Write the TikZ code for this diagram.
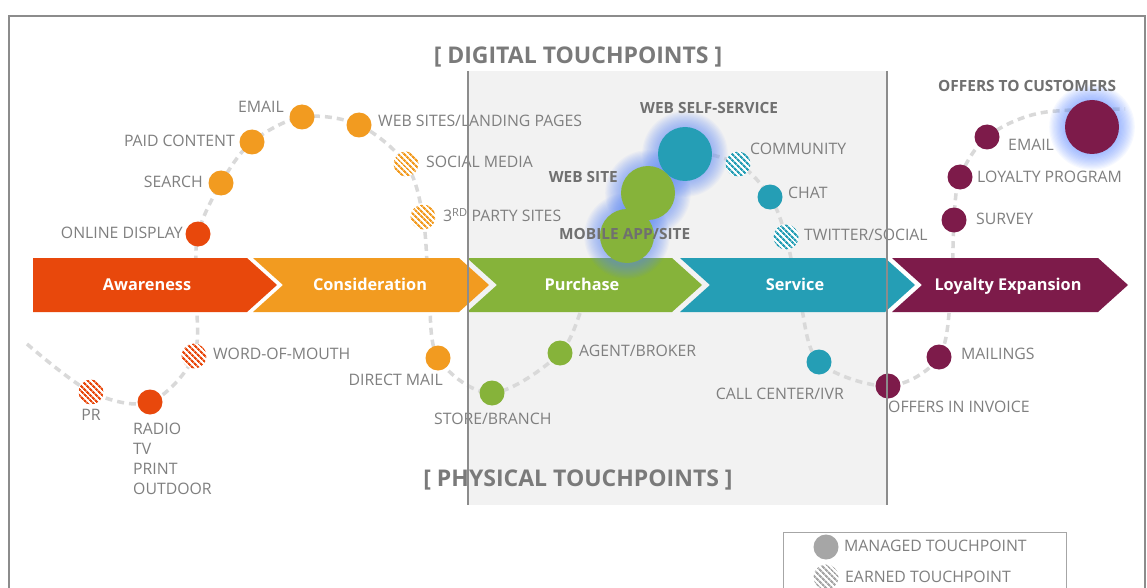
\documentclass[tikz,border=0pt]{standalone}
\usepackage{fontspec}
\setmainfont{Open Sans}
\usetikzlibrary{patterns.meta}
\definecolor{awarecol}{HTML}{E8480C}
\definecolor{considcol}{HTML}{F29B20}
\definecolor{purchcol}{HTML}{86B33A}
\definecolor{servcol}{HTML}{259EB5}
\definecolor{loyalcol}{HTML}{7D1B4A}
\definecolor{lblgray}{HTML}{7F7F7F}
\definecolor{lbldark}{HTML}{707070}
\definecolor{headgray}{HTML}{7A7A7A}
\definecolor{panelgray}{HTML}{F2F2F2}
\definecolor{framegray}{HTML}{8C8C8C}
\definecolor{trailgray}{HTML}{D9D9D9}
\definecolor{glowblue}{HTML}{5A88FF}
\definecolor{legendgray}{HTML}{A6A6A6}
\pgfdeclarelayer{back}
\pgfdeclarelayer{trail}
\pgfdeclarelayer{band}
\pgfdeclarelayer{glow}
\pgfdeclarelayer{front}
\pgfsetlayers{back,trail,band,glow,main,front}
\tikzset{
  lblbase/.style={inner sep=0pt, text=lblgray, font=\fontsize{15.8}{20.3}\selectfont},
  lbl/.style={lblbase, text height=11.3pt, text depth=0pt},
  blbl/.style={lbl, text=lbldark, font=\bfseries\fontsize{15.4}{18}\selectfont, text height=11pt},
  dot/.style={circle, inner sep=0pt, minimum size=25pt, fill=#1},
  bigdot/.style={dot=#1, minimum size=54pt},
  earned/.style={circle, inner sep=0pt, minimum size=25pt, fill=white,
    postaction={pattern={Lines[angle=-45,distance=4pt,line width=2.2pt]}, pattern color=#1}},
  trail/.style={trailgray, line width=3.5pt, dash pattern=on 7pt off 5pt},
  stagetext/.style={inner sep=0pt, text=white, font=\bfseries\fontsize{16.3}{19}\selectfont,
    text height=11.6pt, text depth=0pt},
  heading/.style={inner sep=0pt, text=headgray, font=\bfseries\fontsize{23}{27}\selectfont},
}
\begin{document}
\begin{tikzpicture}[x=1pt,y=-1pt]
  \useasboundingbox (0,0) rectangle (1147,588);
  \begin{pgfonlayer}{back}
    \fill[white] (0,0) rectangle (1147,588);
    \draw[framegray, line width=1.5pt] (9,16) rectangle (1145,620);
    \fill[panelgray] (468,71) rectangle (887,505);
  \end{pgfonlayer}
  \node[heading] (digital) at (578,56.5) {[ DIGITAL TOUCHPOINTS ]};
  \node[heading] (physical) at (578,479.5) {[ PHYSICAL TOUCHPOINTS ]};

  \node[dot=awarecol] (onlinedisplay) at (198,234) {};
  \node[dot=considcol] (search) at (221,183) {};
  \node[dot=considcol] (paidcontent) at (252,142) {};
  \node[dot=considcol] (email) at (302,117) {};
  \node[dot=considcol] (websites) at (359,125) {};
  \node[earned=considcol] (socialmedia) at (406,164) {};
  \node[earned=considcol] (thirdparty) at (423,217) {};
  \node[bigdot=servcol] (selfservice) at (685,154) {};
  \node[bigdot=purchcol] (website) at (648,193) {};
  \node[bigdot=purchcol] (mobileapp) at (627,236) {};
  \node[earned=servcol] (community) at (738,164) {};
  \node[dot=servcol] (chat) at (770,197) {};
  \node[earned=servcol] (twitter) at (786,237) {};
  \node[dot=loyalcol] (lemail) at (987,137) {};
  \node[dot=loyalcol] (loyaltyprogram) at (960,177) {};
  \node[dot=loyalcol] (survey) at (954,220) {};
  \node[bigdot=loyalcol] (offerscust) at (1092,127) {};
  \node[earned=awarecol] (pr) at (91,392) {};
  \node[dot=awarecol] (radio) at (150,402) {};
  \node[earned=awarecol] (wom) at (194,356) {};
  \node[dot=considcol] (directmail) at (438,358) {};
  \node[dot=purchcol] (storebranch) at (492,393) {};
  \node[dot=purchcol] (agentbroker) at (560,353) {};
  \node[dot=servcol] (callcenter) at (819,362) {};
  \node[dot=loyalcol] (offersinvoice) at (888,386) {};
  \node[dot=loyalcol] (mailings) at (939,357) {};

  \node[lbl, anchor=east] (l-onlinedisplay) at (183,233) {ONLINE DISPLAY};
  \node[lbl, anchor=east] (l-search) at (203,182) {SEARCH};
  \node[lbl, anchor=east] (l-paidcontent) at (235,141) {PAID CONTENT};
  \node[lbl, anchor=east] (l-email) at (284,107) {EMAIL};
  \node[lbl, anchor=west] (l-websites) at (378,121) {WEB SITES/LANDING PAGES};
  \node[lbl, anchor=west] (l-socialmedia) at (426,162) {SOCIAL MEDIA};
  \node[lbl, anchor=west] (l-thirdparty) at (443,216) {3\textsuperscript{RD} PARTY SITES};
  \node[blbl, anchor=east] (l-website) at (618,177) {WEB SITE};
  \node[blbl, anchor=west] (l-selfservice) at (640,108) {WEB SELF-SERVICE};
  \node[blbl, anchor=west] (l-mobileapp) at (559,234) {MOBILE APP/SITE};
  \node[lbl, anchor=west] (l-community) at (750,149) {COMMUNITY};
  \node[lbl, anchor=west] (l-chat) at (788,193) {CHAT};
  \node[lbl, anchor=west] (l-twitter) at (804,235) {TWITTER/SOCIAL};
  \node[blbl, anchor=west] (l-offerscust) at (938,86) {OFFERS TO CUSTOMERS};
  \node[lbl, anchor=west] (l-lemail) at (1008,145) {EMAIL};
  \node[lbl, anchor=west] (l-loyaltyprogram) at (977,177) {LOYALTY PROGRAM};
  \node[lbl, anchor=west] (l-survey) at (976,219) {SURVEY};
  \node[lbl, anchor=west] (l-wom) at (213,354) {WORD-OF-MOUTH};
  \node[lbl] (l-pr) at (91,415) {PR};
  \node[lblbase, anchor=north west, align=left] (l-radio) at (133,422.4) {RADIO\\TV\\PRINT\\OUTDOOR};
  \node[lbl, anchor=east] (l-directmail) at (443,380) {DIRECT MAIL};
  \node[lbl, anchor=west] (l-storebranch) at (434,419) {STORE/BRANCH};
  \node[lbl, anchor=west] (l-agentbroker) at (579,351) {AGENT/BROKER};
  \node[lbl, anchor=east] (l-callcenter) at (844,394) {CALL CENTER/IVR};
  \node[lbl, anchor=west] (l-offersinvoice) at (888,407) {OFFERS IN INVOICE};
  \node[lbl, anchor=west] (l-mailings) at (961,354) {MAILINGS};

  \draw[legendgray, fill=white] (783,532) rectangle (1066,620);
  \node[dot=legendgray] (legmanaged) at (826,547) {};
  \node[earned=legendgray] (legearned) at (826,577) {};
  \node[lbl, anchor=west] (l-managed) at (844,546) {MANAGED TOUCHPOINT};
  \node[lbl, anchor=west] (l-earned) at (845,577) {EARNED TOUCHPOINT};

  \coordinate (t0) at (27,344);
  \coordinate (t1) at (196,290);
  \coordinate (t2) at (429,290);
  \coordinate (t3) at (588,295);
  \coordinate (t4) at (800,300);
  \coordinate (t5) at (951,290);
  \coordinate (t6) at (1040,113);
  \coordinate (t7) at (1125,109);
  \begin{pgfonlayer}{trail}
    \draw[trail] plot[smooth, tension=0.55] coordinates {(t0) (pr.center) (radio.center) (wom.center)
      (t1) (onlinedisplay.center) (search.center) (paidcontent.center) (email.center)
      (websites.center) (socialmedia.center) (thirdparty.center) (t2) (directmail.center)
      (storebranch.center) (agentbroker.center) (t3) (mobileapp.center) (website.center)
      (selfservice.center) (community.center) (chat.center) (twitter.center) (t4)
      (callcenter.center) (offersinvoice.center) (mailings.center) (t5) (survey.center)
      (loyaltyprogram.center) (lemail.center) (t6) (t7)};
  \end{pgfonlayer}

  \begin{pgfonlayer}{band}
    \foreach \key/\l/\r/\n/\c/\tx/\name in {aware/33/247/0/awarecol/147/Awareness,
        consid/253/459/30/considcol/370/Consideration, purch/467/672/30/purchcol/582/Purchase,
        serv/680/885/30/servcol/795/Service, loyal/892/1098/30/loyalcol/1008/Loyalty Expansion} {
      \fill[\c] (\l,258) -- (\r,258) -- (\r+30,285) -- (\r,312) -- (\l,312) -- (\l+\n,285) -- cycle;
      \node[stagetext] (\key) at (\tx,285) {\name};
    }
  \end{pgfonlayer}

  \begin{pgfonlayer}{glow}
    \foreach \g in {selfservice,website,mobileapp,offerscust}
      \foreach \k in {1,...,14}
        \fill[glowblue, opacity=0.05] (\g.center) circle (26+1.2*\k);
  \end{pgfonlayer}

  \begin{pgfonlayer}{front}
    \draw[framegray, line width=1.2pt] (468,71) -- (468,505);
    \draw[framegray, line width=1.2pt] (887,71) -- (887,505);
  \end{pgfonlayer}
\end{tikzpicture}
\end{document}
